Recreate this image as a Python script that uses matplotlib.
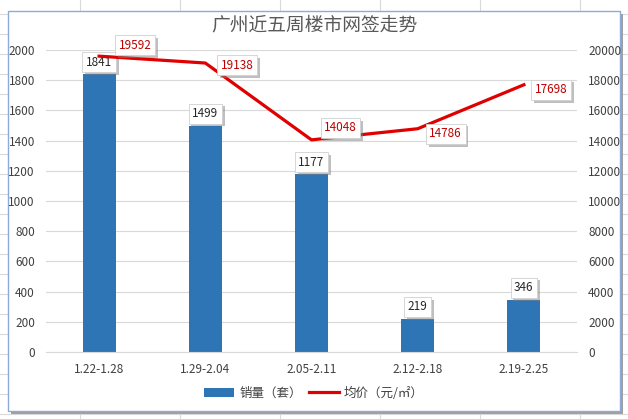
import matplotlib.pyplot as plt
import matplotlib.patheffects as pe
from matplotlib.lines import Line2D
from matplotlib.patches import Rectangle

plt.rcParams['font.family'] = ['Noto Sans CJK SC', 'DejaVu Sans']

weeks = ['1.22-1.28', '1.29-2.04', '2.05-2.11', '2.12-2.18', '2.19-2.25']
sales = [1841, 1499, 1177, 219, 346]
price = [19592, 19138, 14048, 14786, 17698]
# label offsets (pixels) for the price labels
price_off = [(36, 11), (32, -2), (29, 12), (28, -5), (27, -5)]

fig = plt.figure(figsize=(6.28, 4.19), dpi=100)
fig.patch.set_facecolor('white')

# spreadsheet grid behind the chart
for x in range(-20, 640, 100):
    fig.add_artist(Line2D([x / 628, x / 628], [0, 1], color='#d9d9d9', lw=0.8, zorder=0.1))
for y in range(5, 419, 20):
    fig.add_artist(Line2D([0, 1], [y / 419, y / 419], color='#d9d9d9', lw=0.8, zorder=0.1))
shadow = Rectangle((11 / 628, 5 / 419), 612 / 628, 400 / 419, transform=fig.transFigure,
                   facecolor='#a0a0a0', edgecolor='none', zorder=0.5)
frame = Rectangle((8 / 628, 8 / 419), 612 / 628, 400 / 419, transform=fig.transFigure,
                  facecolor='white', edgecolor='#8eaadb', lw=1, zorder=0.6)
fig.add_artist(shadow)
fig.add_artist(frame)

ax = fig.add_axes([46 / 628, 1 - 352 / 419, 531 / 628, 302 / 419])
ax.set_zorder(1)
ax.patch.set_alpha(0)
x = range(len(weeks))
bars = ax.bar(x, sales, width=0.31, color='#2e75b6', zorder=2, label='销量（套）')
ax.set_ylim(0, 2000)
ax.set_yticks(range(0, 2001, 200))
ax.set_xlim(-0.5, 4.5)
ax.set_xticks(list(x))
ax.set_xticklabels(weeks)
ax.grid(axis='y', color='#d9d9d9', lw=0.8, zorder=0)
for s in ['top', 'right', 'left']:
    ax.spines[s].set_visible(False)
ax.spines['bottom'].set_color('#d9d9d9')
ax.tick_params(length=0, labelsize=8.5, colors='#404040', pad=8)

box = dict(boxstyle='square,pad=0.3', fc='white', ec='#d0d0d0', lw=0.6)
shadow_fx = [pe.withSimplePatchShadow(offset=(2, -2), shadow_rgbFace='#808080', alpha=0.5)]
for i, v in enumerate(sales):
    t = ax.annotate(str(v), (i, v), xytext=(0, 12), textcoords='offset pixels',
                    ha='center', va='center', fontsize=8.5, color='#262626', bbox=box, zorder=5)
    t.get_bbox_patch().set_path_effects(shadow_fx)

ax2 = ax.twinx()
ax2.plot(list(x), price, color='#e00000', lw=2.3, zorder=3, label='均价（元/㎡）')
ax2.set_ylim(0, 20000)
ax2.set_yticks(range(0, 20001, 2000))
for s in ['top', 'right', 'left', 'bottom']:
    ax2.spines[s].set_visible(False)
ax2.tick_params(length=0, labelsize=8.5, colors='#404040', pad=8)
for i, v in enumerate(price):
    t = ax2.annotate(str(v), (i, v), xytext=price_off[i], textcoords='offset pixels',
                     ha='center', va='center', fontsize=8.5, color='#c00000',
                     bbox=box, zorder=5)
    t.get_bbox_patch().set_path_effects(shadow_fx)

fig.text(0.5, 1 - 25 / 419, '广州近五周楼市网签走势', ha='center', va='center',
         fontsize=13.5, color='#595959')

h1, l1 = ax.get_legend_handles_labels()
h2, l2 = ax2.get_legend_handles_labels()
fig.legend(h1 + h2, l1 + l2, loc='center', bbox_to_anchor=(0.5, 1 - 393 / 419), ncol=2,
           frameon=False, fontsize=9, labelcolor='#404040', handlelength=2.4,
           columnspacing=0.6, handletextpad=0.4)

fig.savefig('out.png', dpi=100)
